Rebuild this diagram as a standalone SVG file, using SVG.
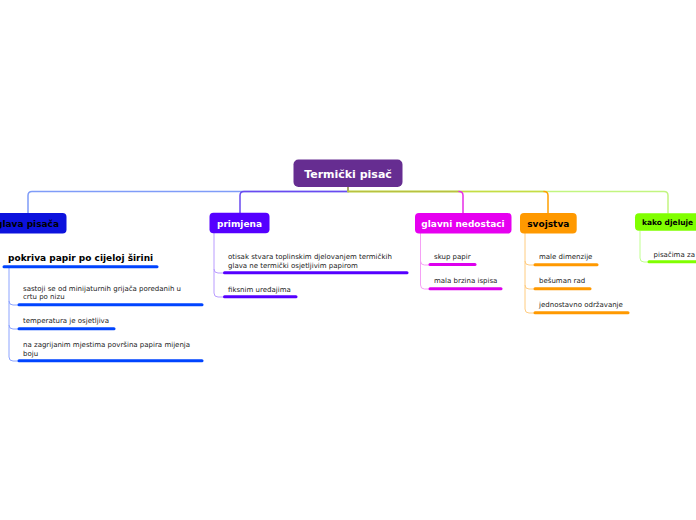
<svg xmlns="http://www.w3.org/2000/svg" width="696" height="520" viewBox="0 0 696 520">
<style>
.c{fill:none;stroke-width:1.5;stroke-linecap:round}
.t{font-family:"DejaVu Sans",Verdana,sans-serif;font-weight:bold}
.s{font-family:"DejaVu Sans",Verdana,sans-serif;font-size:7px;fill:#222}
.u{fill:none;stroke-width:3;stroke-linecap:round}
.st{fill:none;stroke-width:1}
</style>
<rect width="696" height="520" fill="#fff"/>
<g id="connectors">
  <path class="c" stroke="#7f9cf8" d="M348,187 V191.5 H32 Q28,191.5 28,195.5 V213"/>
  <path class="c" stroke="#6a4af0" d="M348,187 V191.5 H244 Q240,191.5 240,195.5 V213"/>
  <path class="c" stroke="#c2f580" d="M348,191.5 H664 Q668,191.5 668,195.5 V213"/>
  <path class="c" stroke="#c6dc44" d="M348,191.5 H544"/>
  <path class="c" stroke="#ffa000" d="M544,191.5 Q548,191.5 548,195.5 V213"/>
  <path class="c" stroke="#b9c040" d="M348,187 V191.5 H459"/>
  <path class="c" stroke="#e62ee6" d="M459,191.5 Q463,191.5 463,195.5 V213"/>
  <!-- sub stems -->
  <path class="st" stroke="#8da4ff" d="M9,267 V357 Q9,361 13,361 H18 M9,301 Q9,305 13,305 H18 M9,325 Q9,329 13,329 H18"/>
  <path class="st" stroke="#b99cff" d="M214,233 V293 Q214,297 218,297 H224 M214,269 Q214,273 218,273 H224"/>
  <path class="st" stroke="#f5a0f5" d="M420.5,233 V285 Q420.5,289 424.5,289 H429 M420.5,261 Q420.5,265 424.5,265 H429"/>
  <path class="st" stroke="#ffcc80" d="M525,233 V309 Q525,313 529,313 H534 M525,261 Q525,265 529,265 H534 M525,285 Q525,289 529,289 H534"/>
  <path class="st" stroke="#c0ff90" d="M640,231 V258 Q640,262 644,262 H649"/>
</g>
<g id="root">
  <rect x="293.5" y="159.5" width="109" height="27.5" rx="5" fill="#662d91"/>
  <text class="t" x="348" y="178" font-size="11" fill="#fff" text-anchor="middle">Termički pisač</text>
</g>
<g id="glava">
  <rect x="-12" y="213" width="78.5" height="20.5" rx="4" fill="#0c12dd"/>
  <text class="t" x="27.5" y="226.5" font-size="9" fill="#000" text-anchor="middle">glava pisača</text>
</g>
<g id="glava-1">
  <text class="t" x="8" y="261" font-size="9" fill="#000">pokriva papir po cijeloj širini</text>
  <path class="u" stroke="#0044ff" d="M4,266.7 H157"/>
</g>
<g id="glava-2">
  <text class="s" x="23" y="290.5">sastoji se od minijaturnih grijača poredanih u</text>
  <text class="s" x="23" y="298.8">crtu po nizu</text>
  <path class="u" stroke="#0044ff" d="M19,304.7 H202"/>
</g>
<g id="glava-3">
  <text class="s" x="23" y="323">temperatura je osjetljiva</text>
  <path class="u" stroke="#0044ff" d="M19,328.8 H114"/>
</g>
<g id="glava-4">
  <text class="s" x="23" y="347">na zagrijanim mjestima površina papira mijenja</text>
  <text class="s" x="23" y="355.5">boju</text>
  <path class="u" stroke="#0044ff" d="M19,360.8 H202"/>
</g>
<g id="primjena">
  <rect x="209.5" y="212.7" width="60" height="20.6" rx="4" fill="#5500ff"/>
  <text class="t" x="239.5" y="226.5" font-size="9" fill="#fff" text-anchor="middle">primjena</text>
</g>
<g id="primjena-1">
  <text class="s" x="228" y="259">otisak stvara toplinskim djelovanjem termičkih</text>
  <text class="s" x="228" y="267.5">glava ne termički osjetljivim papirom</text>
  <path class="u" stroke="#5500ff" d="M224.5,272.7 H407"/>
</g>
<g id="primjena-2">
  <text class="s" x="228" y="291.5">fiksnim uređajima</text>
  <path class="u" stroke="#5500ff" d="M224.5,296.8 H296"/>
</g>
<g id="nedostaci">
  <rect x="415" y="213" width="96.5" height="20.5" rx="4" fill="#e600f0"/>
  <text class="t" x="463" y="226.5" font-size="9" fill="#fff" text-anchor="middle">glavni nedostaci</text>
</g>
<g id="nedostaci-1">
  <text class="s" x="434" y="259">skup papir</text>
  <path class="u" stroke="#dd00ee" d="M430,264.5 H475"/>
</g>
<g id="nedostaci-2">
  <text class="s" x="434" y="283">mala brzina ispisa</text>
  <path class="u" stroke="#dd00ee" d="M430,288.7 H501"/>
</g>
<g id="svojstva">
  <rect x="520" y="213" width="56.7" height="20.5" rx="4" fill="#ff9900"/>
  <text class="t" x="548.3" y="226.5" font-size="9" fill="#000" text-anchor="middle">svojstva</text>
</g>
<g id="svojstva-1">
  <text class="s" x="539" y="259">male dimenzije</text>
  <path class="u" stroke="#ff9900" d="M535,264.7 H597"/>
</g>
<g id="svojstva-2">
  <text class="s" x="539" y="283">bešuman rad</text>
  <path class="u" stroke="#ff9900" d="M535,288.7 H590"/>
</g>
<g id="svojstva-3">
  <text class="s" x="539" y="307">jednostavno održavanje</text>
  <path class="u" stroke="#ff9900" d="M535,312.7 H628"/>
</g>
<g id="kako">
  <rect x="635" y="213.3" width="75" height="17.5" rx="4" fill="#80ff00"/>
  <text class="t" x="642" y="225" font-size="7.5" fill="#000">kako djeluje</text>
</g>
<g id="kako-1">
  <text class="s" x="653.5" y="256.5">pisačima za</text>
  <path class="u" stroke="#80ff00" d="M649,261.7 H700"/>
</g>
</svg>
